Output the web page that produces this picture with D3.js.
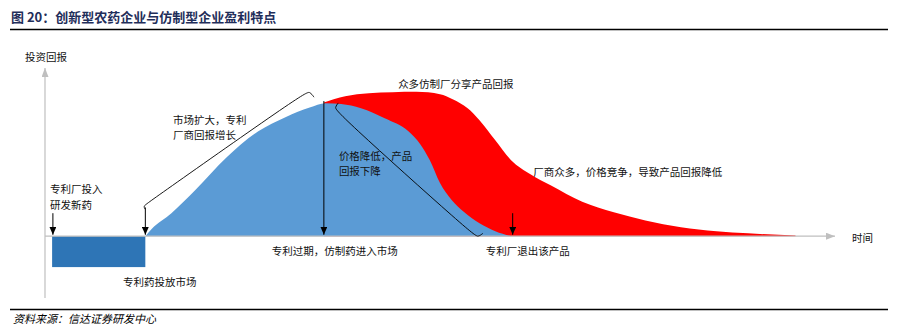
<!DOCTYPE html>
<html><head><meta charset="utf-8">
<script src="https://cdn.jsdelivr.net/npm/d3@7"></script>
<style>
html,body{margin:0;padding:0;background:#fff;}
svg{display:block;}
text{font-family:"Noto Sans CJK SC","Noto Sans",sans-serif;}
</style></head>
<body>
<script>
// ---- data (time in arbitrary units 0..100, return in index units) ----
const titleText = "图 20：创新型农药企业与仿制型企业盈利特点";
const sourceText = "资料来源：信达证券研发中心";

// R&D investment period (negative return)
const rdPeriod = [0.9, 12.7];
const rdReturn = [-21.5];

// patent holder's return curve (blue)
const patentTime   = [12.7, 13.5, 16, 19, 23, 27, 30.5, 33.5, 35.5, 37.5, 40, 43, 46, 47.5, 48.7, 50, 51.5, 53, 55, 57, 59];
const patentReturn = [0, 5, 16, 32, 55, 73, 83, 89.5, 92.5, 92, 89, 82, 73, 64, 53, 37, 25, 17, 9, 3.5, 0];

// total industry return curve (red = generic makers share on top)
const totalTime   = [35.3, 38, 41, 44, 47, 50, 51.6, 53.5, 55, 57, 59, 61.5, 64, 68, 72, 76, 80.5, 85, 89, 95];
const totalReturn = [93, 97.4, 99.5, 100.2, 100.4, 98.8, 95.3, 89, 80.7, 66.8, 52.9, 43, 35.5, 24, 16.7, 11, 6.3, 3.5, 2, 0.5];

// annotation texts [label, t, v]
const labels = [
  ["投资回报", -2.53, 125.2],
  ["时间", 102.15, -0.7],
  ["专利厂投入", 0.63, 33.2],
  ["研发新药", 0.63, 22.1],
  ["专利药投放市场", 9.87, -31.3],
  ["市场扩大，专利", 16.2, 81.4],
  ["厂商回报增长", 16.2, 70.6],
  ["价格降低，产品", 37.2, 56.4],
  ["回报下降", 37.2, 45.6],
  ["众多仿制厂分享产品回报", 44.7, 106.4],
  ["厂商众多，价格竞争，导致产品回报降低", 61.8, 45.2],
  ["专利过期，仿制药进入市场", 28.7, -9.7],
  ["专利厂退出该产品", 55.8, -9.7]
];
// down arrows [t, vFrom, vTo]
const arrows = [
  [1.0, 16, 1],
  [12.7, 20, 1],
  [35.3, 94, 1],
  [59.2, 16, 1]
];
// brackets (sequence of [t,v])
const bracketRise = [[12.66,18.8],[12.47,20.9],[12.85,22.6],[32.91,100.2],[33.54,100.5],[34.05,96.7]];
const bracketFall = [[37.13,92.7],[36.71,89.9],[36.84,86.5],[54.22,0.7],[54.85,-0.5],[55.41,1.9]];

// ---- drawing ----
const W = 899, H = 331;
const svg = d3.select("body").append("svg").attr("width", W).attr("height", H);
svg.append("rect").attr("width", W).attr("height", H).attr("fill", "#fff");

const x = d3.scaleLinear().domain([0, 100]).range([45, 835]);
const y = d3.scaleLinear().domain([-43, 117]).range([298, 68]);

const defs = svg.append("defs");
function marker(id, color, w, h){
  defs.append("marker").attr("id", id).attr("markerUnits","userSpaceOnUse")
    .attr("markerWidth", w).attr("markerHeight", h)
    .attr("refX", w).attr("refY", h/2).attr("orient","auto")
    .append("path").attr("d", `M0,0L${w},${h/2}L0,${h}Z`).attr("fill", color);
}
marker("arrBlack", "#000", 8, 7);
marker("arrGray", "#BFBFBF", 9, 7);

// title
svg.append("text").attr("x", 11).attr("y", 22).attr("font-size", 13).attr("font-weight","bold")
  .attr("fill", "#1F2E5A").text(titleText);
svg.append("line").attr("x1", 10).attr("x2", 888).attr("y1", 29.5).attr("y2", 29.5)
  .attr("stroke", "#000").attr("stroke-width", 1.5);
svg.append("line").attr("x1", 10).attr("x2", 888).attr("y1", 309.5).attr("y2", 309.5)
  .attr("stroke", "#000").attr("stroke-width", 1.5);
svg.append("text").attr("x", 13).attr("y", 323).attr("font-size", 11).attr("font-style","italic")
  .attr("fill", "#000").text(sourceText);

// areas
const area = d3.area().x(d => x(d[0])).y0(y(0)).y1(d => y(d[1])).curve(d3.curveMonotoneX);
svg.append("path").datum(totalTime.map((t,i)=>[t,totalReturn[i]]))
  .attr("d", area).attr("fill", "#FF0000");
svg.append("path").datum(patentTime.map((t,i)=>[t,patentReturn[i]]))
  .attr("d", area).attr("fill", "#5B9BD5");
svg.append("rect").attr("x", x(rdPeriod[0])).attr("width", x(rdPeriod[1]) - x(rdPeriod[0]))
  .attr("y", y(0)).attr("height", y(rdReturn[0]) - y(0)).attr("fill", "#2E75B6");

// axes
svg.append("line").attr("x1", x(0)).attr("x2", x(0)).attr("y1", y(-43)).attr("y2", y(117))
  .attr("stroke", "#BFBFBF").attr("stroke-width", 1.2).attr("marker-end","url(#arrGray)");
svg.append("line").attr("x1", x(0)).attr("x2", x(100)).attr("y1", y(0)).attr("y2", y(0))
  .attr("stroke", "#BFBFBF").attr("stroke-width", 1.2).attr("marker-end","url(#arrGray)");

// arrows
svg.selectAll(".arr").data(arrows).enter().append("line")
  .attr("x1", d => x(d[0])).attr("x2", d => x(d[0]))
  .attr("y1", d => y(d[1])).attr("y2", d => y(d[2]))
  .attr("stroke", "#000").attr("stroke-width", 1).attr("marker-end","url(#arrBlack)");

// brackets
const bl = d3.line().x(d => x(d[0])).y(d => y(d[1])).curve(d3.curveBasis);
[bracketRise, bracketFall].forEach(b => {
  svg.append("path").attr("d", bl(b)).attr("fill","none").attr("stroke","#000").attr("stroke-width",0.9);
});

// labels
svg.selectAll(".lbl").data(labels).enter().append("text")
  .attr("x", d => x(d[1])).attr("y", d => y(d[2]))
  .attr("dominant-baseline","central").attr("font-size", 10.5).attr("fill","#111")
  .text(d => d[0]);
</script>
</body></html>
